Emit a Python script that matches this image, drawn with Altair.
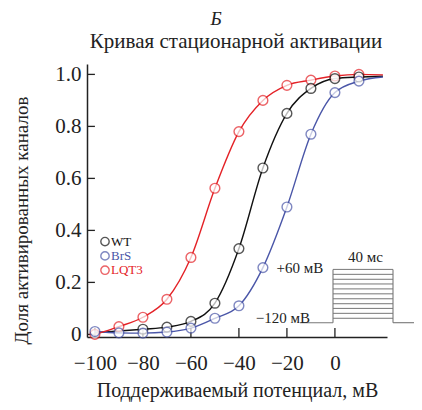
import altair as alt
import pandas as pd

# ---- data ----
voltages = [-100, -90, -80, -70, -60, -50, -40, -30, -20, -10, 0, 10]
wt_v = [-80, -70, -60, -50, -40, -30, -20, -10, 0, 10]
wt = [0.02, 0.028, 0.05, 0.12, 0.33, 0.64, 0.85, 0.946, 0.984, 0.99]
brs = [0.011, 0.006, 0.005, 0.009, 0.024, 0.062, 0.11, 0.257, 0.49, 0.77, 0.93, 0.974]
lqt3 = [0.0, 0.03, 0.066, 0.135, 0.296, 0.562, 0.78, 0.90, 0.958, 0.978, 0.994, 1.0]

# fitted-curve extents (line only)
curve_start_v = -100
curve_end_v = 20
wt_curve_start = 0.006
curve_end = {"WT": 0.993, "BrS": 0.99, "LQT3": 0.998}

series = ["WT", "BrS", "LQT3"]
colors = ["#111111", "#4a56a8", "#e42227"]

# tick values
x_ticks = [-100, -80, -60, -40, -20, 0]
y_ticks = [0, 0.2, 0.4, 0.6, 0.8, 1.0]

# voltage protocol inset (data units)
hold_left_x = [-14.6, -0.8]
hold_right_x = [24.2, 36.0]
box_x = [-0.8, 24.2]
hold_y = 0.045
box_top = 0.25
step_levels = [0.250, 0.231, 0.212, 0.194, 0.175, 0.156, 0.137, 0.118, 0.100, 0.081, 0.062]
proto_labels = ["+60 мВ", "\u2212120 мВ", "40 мс"]
proto_lx = [-14.6, -21.7, 12.7]
proto_ly = [0.255, 0.063, 0.298]

# legend entries
leg_x = -95.8
leg_tx = -93.3
leg_y = [0.357, 0.302, 0.247]

XD = [-103.3, 21.7]
YD = [-0.01, 1.04]
FONT = "Liberation Serif"

# ---- tables ----
pts = pd.concat([
    pd.DataFrame({"v": wt_v, "p": wt, "s": "WT", "o": 1}),
    pd.DataFrame({"v": voltages, "p": brs, "s": "BrS", "o": 2}),
    pd.DataFrame({"v": voltages, "p": lqt3, "s": "LQT3", "o": 0}),
])

line_rows = []
line_rows.append(pd.DataFrame({"v": [curve_start_v] + wt_v + [curve_end_v],
                               "p": [wt_curve_start] + wt + [curve_end["WT"]], "s": "WT"}))
line_rows.append(pd.DataFrame({"v": voltages + [curve_end_v],
                               "p": brs + [curve_end["BrS"]], "s": "BrS"}))
line_rows.append(pd.DataFrame({"v": voltages + [curve_end_v],
                               "p": lqt3 + [curve_end["LQT3"]], "s": "LQT3"}))
lines_df = pd.concat(line_rows)

xs = alt.Scale(domain=XD, nice=False, zero=False)
ys = alt.Scale(domain=YD, nice=False, zero=False)
cs = alt.Scale(domain=series, range=colors)

x_axis = alt.Axis(values=x_ticks, ticks=False, grid=False, domainColor="#222", domainWidth=1.5,
                  labelFont=FONT, labelFontSize=21, labelColor="#222", labelPadding=15,
                  title="Поддерживаемый потенциал, мВ", titleFont=FONT, titleFontSize=20,
                  titleFontWeight="normal", titleColor="#222", titlePadding=7,
                  labelFlush=False)
y_axis = alt.Axis(values=y_ticks, ticks=False, grid=False, domainColor="#222", domainWidth=1.5,
                  labelFont=FONT, labelFontSize=21, labelColor="#222", labelPadding=6,
                  labelExpr="datum.value == 0 ? '0' : format(datum.value, '.1f')",
                  title="Доля активированных каналов", titleFont=FONT, titleFontSize=19,
                  titleFontWeight="normal", titleColor="#222", titleX=-56, titleY=156,
                  labelFlush=False)

base_x = alt.X("v:Q", scale=xs, axis=x_axis)
base_y = alt.Y("p:Q", scale=ys, axis=y_axis)

lines = alt.Chart(lines_df).mark_line(interpolate="monotone", strokeWidth=1.4).encode(
    x=base_x, y=base_y,
    color=alt.Color("s:N", scale=cs, legend=None), detail="s:N")

points = alt.Chart(pts).mark_point(shape="circle", filled=True, fill="white", size=95,
                                   strokeWidth=1.4).encode(
    x=alt.X("v:Q", scale=xs), y=alt.Y("p:Q", scale=ys),
    stroke=alt.Stroke("s:N", scale=cs, legend=None), order="o:Q")

# inward ticks
xt = alt.Chart(pd.DataFrame({"t": x_ticks})).mark_rule(color="#222", strokeWidth=1.3).encode(
    x=alt.X("t:Q", scale=xs), y=alt.datum(YD[0]), y2=alt.datum(0.025))
yt = alt.Chart(pd.DataFrame({"t": y_ticks})).mark_rule(color="#222", strokeWidth=1.3).encode(
    y=alt.Y("t:Q", scale=ys), x=alt.datum(XD[0]), x2=alt.datum(-100.0))

# protocol
hold_df = pd.DataFrame({"x1": [hold_left_x[0], hold_right_x[0]],
                        "x2": [hold_left_x[1], hold_right_x[1]], "y": [hold_y, hold_y]})
hold = alt.Chart(hold_df).mark_rule(color="#777", strokeWidth=1.1).encode(
    x=alt.X("x1:Q", scale=xs), x2="x2:Q", y=alt.Y("y:Q", scale=ys))
steps = alt.Chart(pd.DataFrame({"y": step_levels})).mark_rule(color="#777", strokeWidth=1.0).encode(
    x=alt.datum(box_x[0], scale=xs), x2=alt.datum(box_x[1]), y=alt.Y("y:Q", scale=ys))
sides = alt.Chart(pd.DataFrame({"x": box_x})).mark_rule(color="#777", strokeWidth=1.1).encode(
    x=alt.X("x:Q", scale=xs), y=alt.datum(hold_y, scale=ys), y2=alt.datum(box_top))
plab = alt.Chart(pd.DataFrame({"x": proto_lx, "y": proto_ly, "t": proto_labels})).mark_text(
    font=FONT, fontSize=15, color="#222").encode(
    x=alt.X("x:Q", scale=xs), y=alt.Y("y:Q", scale=ys), text="t:N")

# legend
leg_df = pd.DataFrame({"x": [leg_x] * 3, "tx": [leg_tx] * 3, "y": leg_y, "s": series})
leg_pts = alt.Chart(leg_df).mark_point(shape="circle", filled=True, fill="white", size=70,
                                       strokeWidth=1.4).encode(
    x=alt.X("x:Q", scale=xs), y=alt.Y("y:Q", scale=ys),
    stroke=alt.Stroke("s:N", scale=cs, legend=None))
leg_txt = alt.Chart(leg_df).mark_text(font=FONT, fontSize=13, align="left").encode(
    x=alt.X("tx:Q", scale=xs), y=alt.Y("y:Q", scale=ys), text="s:N",
    color=alt.Color("s:N", scale=cs, legend=None))

# headings
head = alt.Chart(pd.DataFrame({"t": ["Б"]})).mark_text(
    font=FONT, fontSize=19, fontStyle="italic", color="#222").encode(
    text="t:N", x=alt.value(129), y=alt.value(-45))
sub = alt.Chart(pd.DataFrame({"t": ["Кривая стационарной активации"]})).mark_text(
    font=FONT, fontSize=21, color="#222").encode(
    text="t:N", x=alt.value(149), y=alt.value(-22))

chart = alt.layer(lines, xt, yt, hold, steps, sides, plab, points, leg_pts, leg_txt, head, sub).properties(
    width=300, height=273,
    padding={"left": 79, "top": 56, "right": 27, "bottom": 65},
    autosize=alt.AutoSizeParams(type="none"),
).configure_view(stroke=None)

chart.save("out.html", embed_options={"renderer": "svg", "actions": False})
